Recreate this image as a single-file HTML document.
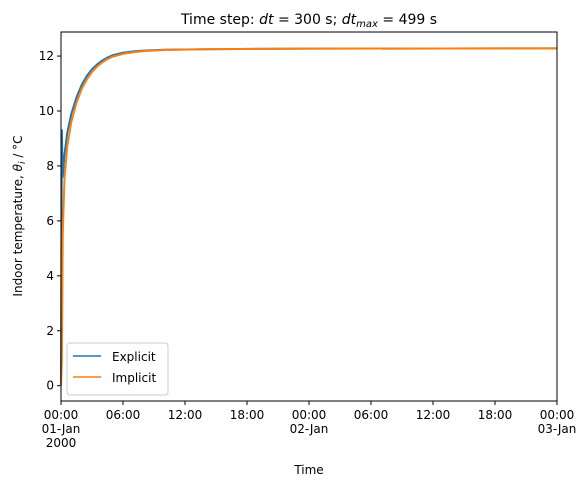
<!DOCTYPE html>
<html><head><meta charset="utf-8">
<style>body{margin:0;background:#fff}svg{font-family:"DejaVu Sans","Liberation Sans",sans-serif}</style>
</head><body>
<svg id="chart" width="580" height="487">
<rect width="580" height="487" fill="#fff"/>
<text x="309" y="24" text-anchor="middle" font-size="14">Time step: <tspan font-style="italic">dt</tspan> = 300 s; <tspan font-style="italic">dt</tspan><tspan font-style="italic" font-size="10" dy="3">max</tspan><tspan dy="-3"> = 499 s</tspan></text>
<g id="plot"></g>
<text x="309" y="474" text-anchor="middle" font-size="12">Time</text>
<text transform="translate(22,216) rotate(-90)" text-anchor="middle" font-size="12">Indoor temperature, <tspan font-style="italic">θ</tspan><tspan font-style="italic" font-size="9" dy="3">i</tspan><tspan dy="-3"> / °C</tspan></text>
<g>
<rect x="67" y="343" width="101" height="52" rx="3" fill="#fff" fill-opacity="0.8" stroke="#ccc"/>
<line x1="73" y1="356" x2="101" y2="356" stroke="#1f77b4" stroke-width="1.5"/>
<text x="112" y="361" font-size="12">Explicit</text>
<line x1="73" y1="377" x2="101" y2="377" stroke="#ff7f0e" stroke-width="1.5"/>
<text x="112" y="382" font-size="12">Implicit</text>
</g>
</svg>
<script>
const hours = [0,0.083,0.17,0.33,0.6,1,1.5,2,2.5,3,3.5,4,4.5,5,6,7,8,10,14,24,48];
const explicitVals = [0,9.3,7.6,8.4,9.2,9.9,10.5,10.95,11.28,11.52,11.7,11.84,11.95,12.03,12.12,12.17,12.2,12.23,12.25,12.27,12.28];
const implicitVals = [0,1.0,5.5,7.5,8.7,9.6,10.3,10.8,11.15,11.42,11.62,11.77,11.89,11.98,12.08,12.14,12.18,12.22,12.25,12.27,12.28];
const yTicks = [0,2,4,6,8,10,12];
const xTickHours = [0,6,12,18,24,30,36,42,48];
const xTickLabels = [["00:00","01-Jan","2000"],["06:00"],["12:00"],["18:00"],["00:00","02-Jan"],["06:00"],["12:00"],["18:00"],["00:00","03-Jan"]];
const L=61,R=557,T=32,B=401;
const xs=h=>L+h/48*(R-L);
const ys=v=>385.7-v*27.47;
const NS="http://www.w3.org/2000/svg";
const g=document.getElementById('plot');
function mk(t,a){const e=document.createElementNS(NS,t);for(const k in a)e.setAttribute(k,a[k]);g.appendChild(e);return e;}
yTicks.forEach(v=>{
 const l=mk('line',{x1:L-4,x2:L,y1:ys(v),y2:ys(v),stroke:'#000'});
 
 
 const t=mk('text',{x:L-7,y:ys(v)+4,'text-anchor':'end','font-size':12});
 t.textContent=v;
 
 
});
xTickHours.forEach((h,i)=>{
 const l=mk('line',{x1:xs(h),x2:xs(h),y1:B,y2:B+4,stroke:'#000'});
 
 
 xTickLabels[i].forEach((s,j)=>{
  const t=mk('text',{x:xs(h),y:B+18+j*14,'text-anchor':'middle','font-size':12});
  t.textContent=s;
  
  
 });
});
function series(vals,color,name){
 const p=mk('polyline',{points:hours.map((h,i)=>xs(h)+','+ys(vals[i])).join(' '),fill:'none',stroke:color,'stroke-width':2,'stroke-linejoin':'round'});
 
 
}
series(explicitVals,'#1f77b4','explicit-line');
series(implicitVals,'#ff7f0e','implicit-line');
const f=mk('rect',{x:L,y:T,width:R-L,height:B-T,fill:'none',stroke:'#000','stroke-width':1});


</script>
</body></html>
